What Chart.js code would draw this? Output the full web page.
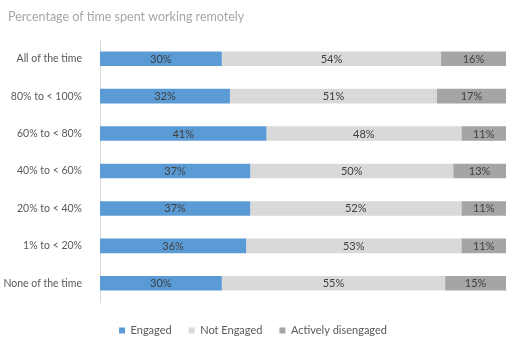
<!DOCTYPE html>
<html>
<head>
<meta charset="utf-8">
<script src="https://cdn.jsdelivr.net/npm/chart.js@4/dist/chart.umd.min.js"></script>
<style>
  html, body { margin: 0; padding: 0; background: #fff; }
  #wrap { width: 519px; height: 348px; position: relative; }
</style>
</head>
<body>
<div id="wrap"><canvas id="grafico"></canvas></div>
<script>
// datos de la encuesta (porcentajes por fila)
const categorias = ['All of the time', '80% to < 100%', '60% to < 80%', '40% to < 60%', '20% to < 40%', '1% to < 20%', 'None of the time'];
const engaged = [30, 32, 41, 37, 37, 36, 30];
const notEngaged = [54, 51, 48, 50, 52, 53, 55];
const activelyDisengaged = [16, 17, 11, 13, 11, 11, 15];
const titulo = 'Percentage of time spent working remotely';

const fuente = 'Lato, "Open Sans", sans-serif';

// escribe el valor en el centro de cada segmento
const etiquetas = {
    id: 'etiquetas',
    afterDatasetsDraw(chart) {
        const ctx = chart.ctx;
        ctx.save();
        ctx.font = '11px ' + fuente;
        ctx.fillStyle = '#404040';
        ctx.textAlign = 'center';
        ctx.textBaseline = 'middle';
        chart.data.datasets.forEach((ds, i) => {
            chart.getDatasetMeta(i).data.forEach((bar, j) => {
                const x = (bar.x + bar.base) / 2;
                ctx.fillText(ds.data[j] + '%', x, bar.y + 0.5);
            });
        });
        ctx.restore();
    }
};

// titulo arriba a la izquierda
const tituloPlugin = {
    id: 'tituloPlugin',
    afterDraw(chart) {
        const ctx = chart.ctx;
        ctx.save();
        ctx.font = '12.5px ' + fuente;
        ctx.fillStyle = '#a6a6a6';
        ctx.textAlign = 'left';
        ctx.textBaseline = 'middle';
        ctx.fillText(titulo, 8, 17);
        ctx.restore();
    }
};

const ctx = document.getElementById('grafico').getContext('2d');
const myChart = new Chart(ctx, {
    type: 'bar',
    data: {
        labels: categorias,
        datasets: [
            { label: 'Engaged', data: engaged, backgroundColor: '#5b9bd5' },
            { label: 'Not Engaged', data: notEngaged, backgroundColor: '#d9d9d9' },
            { label: 'Actively disengaged', data: activelyDisengaged, backgroundColor: '#a5a5a5' }
        ]
    },
    options: {
        indexAxis: 'y',
        responsive: true,
        maintainAspectRatio: false,
        animation: false,
        layout: { padding: { top: 40, right: 13, left: 0, bottom: 2 } },
        datasets: {
            bar: { barPercentage: 0.39, categoryPercentage: 1 }
        },
        scales: {
            x: {
                stacked: true,
                min: 0,
                max: 100,
                // eje invisible, solo deja un hueco sobre la leyenda
                grid: { display: false },
                border: { display: false },
                ticks: { display: false },
                afterFit(scale) { scale.height = 6; }
            },
            y: {
                stacked: true,
                grid: { display: false },
                border: { display: true, color: '#d9d9d9' },
                ticks: {
                    color: '#595959',
                    font: { family: fuente, size: 10.5 },
                    padding: 10
                },
                afterFit(scale) { scale.width = 100; }
            }
        },
        plugins: {
            title: { display: false },
            tooltip: { enabled: false },
            legend: {
                position: 'bottom',
                labels: {
                    boxWidth: 6,
                    boxHeight: 6,
                    color: '#595959',
                    font: { family: fuente, size: 11 },
                    padding: 17
                }
            }
        }
    },
    plugins: [etiquetas, tituloPlugin]
});
</script>
</body>
</html>
